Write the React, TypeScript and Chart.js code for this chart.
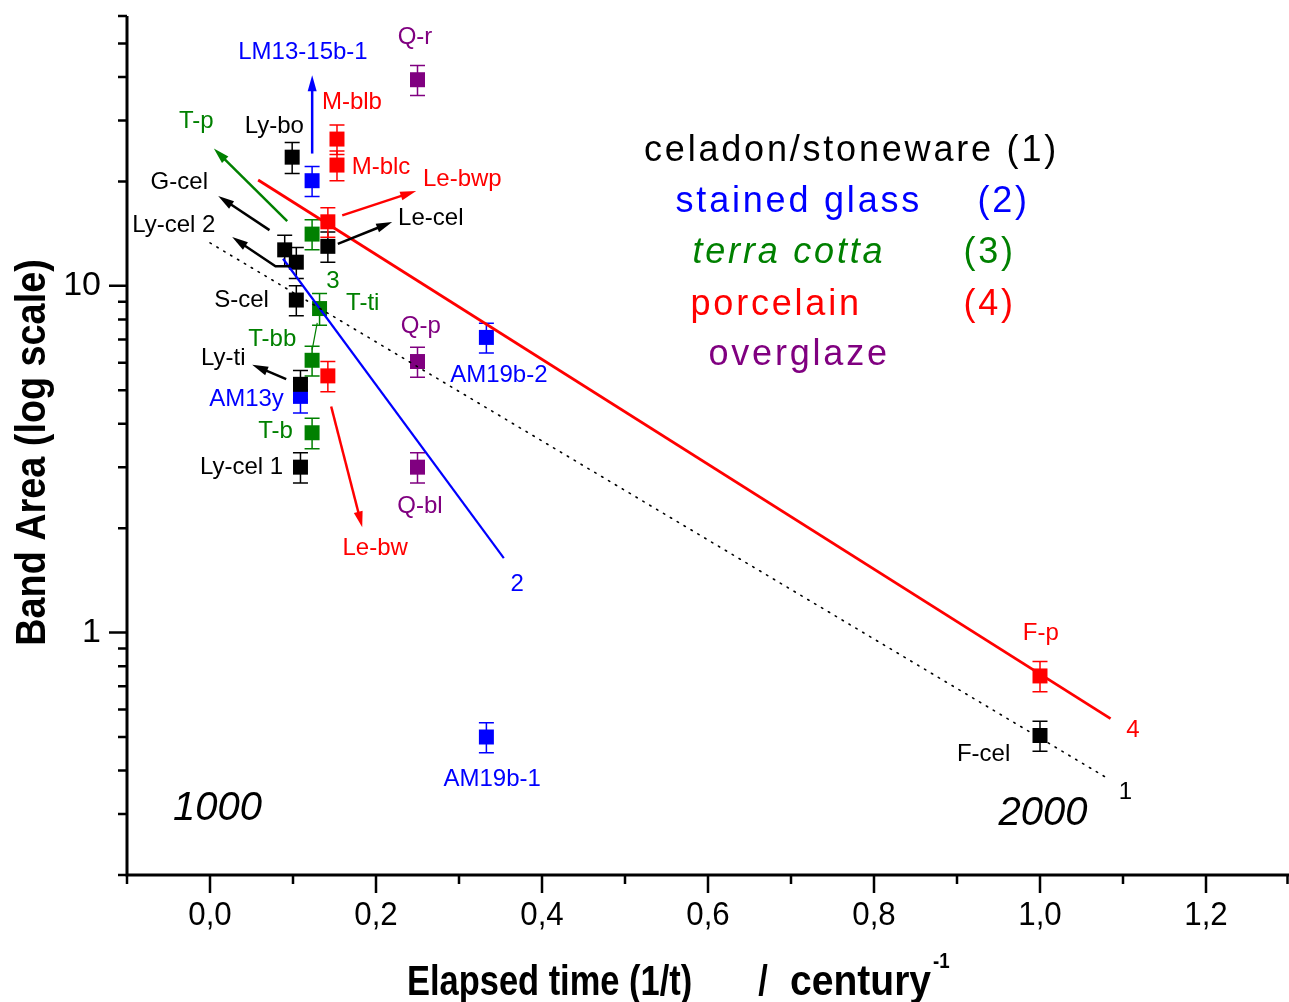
import React, { useEffect, useRef } from "react";
import { Chart, registerables } from "chart.js";

Chart.register(...registerables);

// ---------- data ----------
const celadonNames = ["Ly-bo", "G-cel", "Ly-cel 2", "Le-cel", "S-cel", "Ly-ti", "Ly-cel 1", "F-cel"];
const celadonX = [0.099, 0.09, 0.104, 0.142, 0.104, 0.109, 0.109, 1.0];
const celadonY = [23.5, 12.7, 11.7, 13.0, 9.1, 5.2, 3.0, 0.505];
const celadonErr = [2.4, 1.3, 1.2, 1.3, 0.9, 0.5, 0.3, 0.05];

const glassNames = ["LM13-15b-1", "AM13y", "AM19b-2", "AM19b-1"];
const glassX = [0.123, 0.109, 0.333, 0.333];
const glassY = [20.1, 4.8, 7.1, 0.5];
const glassErr = [2.0, 0.5, 0.7, 0.05];

const terraNames = ["T-p", "T-ti", "T-bb", "T-b"];
const terraX = [0.123, 0.132, 0.123, 0.123];
const terraY = [14.1, 8.6, 6.1, 3.77];
const terraErr = [1.4, 0.9, 0.6, 0.38];

const porcelainNames = ["M-blb", "M-blc", "Le-bwp", "Le-bw", "F-p"];
const porcelainX = [0.153, 0.153, 0.142, 0.142, 1.0];
const porcelainY = [26.5, 22.3, 15.3, 5.5, 0.75];
const porcelainErr = [2.6, 2.2, 1.5, 0.55, 0.075];

const overglazeNames = ["Q-r", "Q-p", "Q-bl"];
const overglazeX = [0.25, 0.25, 0.25];
const overglazeY = [39.3, 6.05, 3.0];
const overglazeErr = [3.9, 0.6, 0.3];

// fitted lines (1) celadon, (2) glass, (4) porcelain
const fit1X = [0.0, 1.083];
const fit1Y = [13.3, 0.378];
const fit2X = [0.088, 0.354];
const fit2Y = [11.97, 1.64];
const fit4X = [0.058, 1.085];
const fit4Y = [20.2, 0.565];

// ticks
const xMajorTicks = [0, 0.2, 0.4, 0.6, 0.8, 1.0, 1.2];
const xTickLabels = ["0,0", "0,2", "0,4", "0,6", "0,8", "1,0", "1,2"];
const xMinorTicks = [-0.1, 0.1, 0.3, 0.5, 0.7, 0.9, 1.1, 1.3];
const yMajorTicks = [1, 10];
const yTickLabels = ["1", "10"];
const yMinorTicks = [0.2, 0.3, 0.4, 0.5, 0.6, 0.7, 0.8, 0.9, 2, 3, 4, 5, 6, 7, 8, 9, 20, 30, 40, 50, 60];

// point annotations (data coordinates)
const labelTexts = ["LM13-15b-1", "Q-r", "M-blb", "T-p", "Ly-bo", "M-blc", "Le-bwp", "G-cel", "Le-cel", "Ly-cel 2", "3", "S-cel", "T-ti", "Q-p", "T-bb", "Ly-ti", "AM19b-2", "AM13y", "T-b", "Ly-cel 1", "Q-bl", "Le-bw", "2", "F-p", "4", "F-cel", "1", "AM19b-1"];
const labelX = [0.112, 0.247, 0.171, -0.0165, 0.0775, 0.206, 0.304, -0.037, 0.266, -0.0436, 0.148, 0.038, 0.184, 0.254, 0.075, 0.016, 0.348, 0.044, 0.079, 0.038, 0.253, 0.199, 0.37, 1.001, 1.112, 0.932, 1.103, 0.34];
const labelY = [47.2, 52.1, 33.9, 29.8, 28.8, 21.9, 20.3, 19.9, 15.7, 14.9, 10.3, 9.09, 8.89, 7.64, 7.03, 6.19, 5.52, 4.71, 3.8, 3.0, 2.31, 1.75, 1.38, 0.993, 0.522, 0.447, 0.346, 0.378];
const labelColorKeys = ["b", "p", "r", "g", "k", "r", "r", "k", "k", "k", "g", "k", "g", "p", "g", "k", "b", "b", "g", "k", "p", "r", "b", "r", "r", "k", "k", "b"];

const eraTexts = ["1000", "2000"];
const eraX = [0.009, 1.0036];
const eraY = [0.3105, 0.3003];

// legend block
const legendTexts = ["celadon/stoneware (1)", "stained glass", "terra cotta", "porcelain", "overglaze"];
const legendNums = ["", "(2)", "(3)", "(4)", ""];
const legendColorKeys = ["k", "b", "g", "r", "p"];
const legendX = [0.5229, 0.5609, 0.5813, 0.5789, 0.6006];
const legendNumX = [0, 0.9247, 0.9078, 0.9078, 0];
const legendY = [24.44, 17.41, 12.4, 8.83, 6.33];

// arrows (data coordinates, last point is the head)
const arrowPaths: number[][][] = [
  [[0.093, 15.37], [0.0046, 24.9]],
  [[0.0717, 14.48], [0.0099, 18.15]],
  [[0.1006, 11.39], [0.0789, 11.39], [0.0267, 13.82]],
  [[0.1231, 24.07], [0.1231, 40.5]],
  [[0.1593, 15.97], [0.2484, 18.77]],
  [[0.154, 13.22], [0.2195, 15.27]],
  [[0.0918, 5.385], [0.0508, 5.92]],
  [[0.146, 4.487], [0.1834, 2.012]],
];
const arrowColorKeys = ["g", "k", "k", "b", "r", "k", "k", "r"];
const connectorPath = [[0.1292, 7.82], [0.1231, 6.546]];

// ---------- styles ----------
const COLORS: Record<string, string> = {
  k: "#000000",
  b: "#0000ff",
  g: "#008000",
  r: "#ff0000",
  p: "#800080",
};
const FONT = '"Liberation Sans", Arial, Helvetica, sans-serif';

function drawText(
  ctx: CanvasRenderingContext2D,
  s: string,
  x: number,
  y: number,
  size: number,
  color: string,
  o: { weight?: string; italic?: boolean; align?: CanvasTextAlign; sx?: number; spacing?: number; rot?: number } = {}
) {
  ctx.save();
  ctx.translate(x, y);
  if (o.rot) ctx.rotate(o.rot);
  if (o.sx) ctx.scale(o.sx, 1);
  ctx.font = `${o.italic ? "italic " : ""}${o.weight || "normal"} ${size}px ${FONT}`;
  (ctx as any).letterSpacing = (o.spacing || 0) + "px";
  ctx.fillStyle = color;
  ctx.textAlign = o.align || "center";
  ctx.textBaseline = "middle";
  ctx.fillText(s, 0, 0);
  ctx.restore();
}

function pts(xs: number[], ys: number[]) {
  return xs.map((x, i) => ({ x, y: ys[i] }));
}

const groups = [
  { x: celadonX, y: celadonY, e: celadonErr, c: "k" },
  { x: glassX, y: glassY, e: glassErr, c: "b" },
  { x: terraX, y: terraY, e: terraErr, c: "g" },
  { x: porcelainX, y: porcelainY, e: porcelainErr, c: "r" },
  { x: overglazeX, y: overglazeY, e: overglazeErr, c: "p" },
];

const decorPlugin = {
  id: "decor",
  beforeDatasetsDraw(chart: any) {
    const ctx: CanvasRenderingContext2D = chart.ctx;
    const xs = chart.scales.x;
    const ys = chart.scales.y;
    ctx.save();
    ctx.lineWidth = 1.5;
    groups.forEach((g) => {
      ctx.strokeStyle = COLORS[g.c];
      g.x.forEach((xv, i) => {
        const px = xs.getPixelForValue(xv);
        const t = ys.getPixelForValue(g.y[i] + g.e[i]);
        const b = ys.getPixelForValue(g.y[i] - g.e[i]);
        ctx.beginPath();
        ctx.moveTo(px, t);
        ctx.lineTo(px, b);
        ctx.moveTo(px - 7.5, t);
        ctx.lineTo(px + 7.5, t);
        ctx.moveTo(px - 7.5, b);
        ctx.lineTo(px + 7.5, b);
        ctx.stroke();
      });
    });
    ctx.restore();
  },
  afterDatasetsDraw(chart: any) {
    const ctx: CanvasRenderingContext2D = chart.ctx;
    const xs = chart.scales.x;
    const ys = chart.scales.y;
    const P = (p: number[]) => [xs.getPixelForValue(p[0]), ys.getPixelForValue(p[1])];

    // arrows
    arrowPaths.forEach((path, k) => {
      const col = COLORS[arrowColorKeys[k]];
      const pp = path.map(P);
      const n = pp.length;
      const [hx, hy] = pp[n - 1];
      const [ax, ay] = pp[n - 2];
      const ang = Math.atan2(hy - ay, hx - ax);
      const L = 16;
      const W = 4.5;
      ctx.save();
      ctx.strokeStyle = col;
      ctx.fillStyle = col;
      ctx.lineWidth = 2.5;
      ctx.beginPath();
      ctx.moveTo(pp[0][0], pp[0][1]);
      for (let i = 1; i < n - 1; i++) ctx.lineTo(pp[i][0], pp[i][1]);
      ctx.lineTo(hx - Math.cos(ang) * (L - 2), hy - Math.sin(ang) * (L - 2));
      ctx.stroke();
      ctx.beginPath();
      ctx.moveTo(hx, hy);
      ctx.lineTo(hx - Math.cos(ang) * L - Math.sin(ang) * W, hy - Math.sin(ang) * L + Math.cos(ang) * W);
      ctx.lineTo(hx - Math.cos(ang) * L + Math.sin(ang) * W, hy - Math.sin(ang) * L - Math.cos(ang) * W);
      ctx.closePath();
      ctx.fill();
      ctx.restore();
    });
    // connector
    {
      const a = P(connectorPath[0]);
      const b = P(connectorPath[1]);
      ctx.save();
      ctx.strokeStyle = COLORS.g;
      ctx.lineWidth = 1.2;
      ctx.beginPath();
      ctx.moveTo(a[0], a[1]);
      ctx.lineTo(b[0], b[1]);
      ctx.stroke();
      ctx.restore();
    }

    // point labels
    labelTexts.forEach((t, i) => {
      const [px, py] = P([labelX[i], labelY[i]]);
      drawText(ctx, t, px, py, 24, COLORS[labelColorKeys[i]]);
    });
    // era labels
    eraTexts.forEach((t, i) => {
      const [px, py] = P([eraX[i], eraY[i]]);
      drawText(ctx, t, px, py, 40, "#000", { italic: true });
    });
    // legend block
    legendTexts.forEach((t, i) => {
      const [px, py] = P([legendX[i], legendY[i]]);
      const col = COLORS[legendColorKeys[i]];
      drawText(ctx, t, px, py, 36, col, { align: "left", spacing: 2.8, italic: i === 2 });
      if (legendNums[i]) {
        const [nx] = P([legendNumX[i], legendY[i]]);
        drawText(ctx, legendNums[i], nx, py, 36, col, { align: "left", spacing: 2.8 });
      }
    });
  },
  afterDraw(chart: any) {
    const ctx: CanvasRenderingContext2D = chart.ctx;
    const xs = chart.scales.x;
    const ys = chart.scales.y;
    const { left, right, top, bottom } = chart.chartArea;
    ctx.save();
    ctx.strokeStyle = "#000";
    ctx.lineWidth = 3;
    ctx.beginPath();
    ctx.moveTo(left, top);
    ctx.lineTo(left, bottom);
    ctx.lineTo(right, bottom);
    ctx.stroke();
    ctx.lineWidth = 2.5;
    ctx.beginPath();
    xMajorTicks.forEach((v) => {
      const px = xs.getPixelForValue(v);
      ctx.moveTo(px, bottom);
      ctx.lineTo(px, bottom + 18);
    });
    xMinorTicks.forEach((v) => {
      const px = Math.min(xs.getPixelForValue(v), right - 1.5);
      ctx.moveTo(px, bottom);
      ctx.lineTo(px, bottom + 9);
    });
    yMajorTicks.forEach((v) => {
      const py = ys.getPixelForValue(v);
      ctx.moveTo(left, py);
      ctx.lineTo(left - 18, py);
    });
    yMinorTicks.forEach((v) => {
      const py = ys.getPixelForValue(v);
      ctx.moveTo(left, py);
      ctx.lineTo(left - 9, py);
    });
    ctx.stroke();
    ctx.restore();

    xMajorTicks.forEach((v, i) => {
      drawText(ctx, xTickLabels[i], xs.getPixelForValue(v), bottom + 41, 34, "#000", { sx: 0.92 });
    });
    yMajorTicks.forEach((v, i) => {
      drawText(ctx, yTickLabels[i], left - 26, ys.getPixelForValue(v), 34, "#000", { align: "right" });
    });

    // axis titles
    const ty = bottom + 108;
    drawText(ctx, "Elapsed time (1/t)", 407, ty, 42, "#000", { weight: "bold", align: "left", sx: 0.82 });
    drawText(ctx, "/", 763, ty, 42, "#000", { weight: "bold", sx: 0.82 });
    drawText(ctx, "century", 790, ty, 42, "#000", { weight: "bold", align: "left", sx: 0.93 });
    drawText(ctx, "-1", 933, ty - 21, 22, "#000", { weight: "bold", align: "left", sx: 0.85 });

    drawText(ctx, "Band Area (log scale)", left - 94, (top + bottom) / 2 + 7, 42, "#000", {
      weight: "bold",
      rot: -Math.PI / 2,
      sx: 0.9,
    });
  },
};

export default function App() {
  const ref = useRef<HTMLCanvasElement>(null);
  useEffect(() => {
    if (!ref.current) return;
    const sq = { pointStyle: "rect" as const, pointRadius: 10.6, pointHoverRadius: 10.6, borderWidth: 0, showLine: false };
    const chart = new Chart(ref.current, {
      type: "scatter",
      data: {
        datasets: [
          { label: "fit 1", data: pts(fit1X, fit1Y), showLine: true, pointRadius: 0, borderColor: "#000", borderWidth: 1.6, borderDash: [1.5, 6.5], borderCapStyle: "round" as const },
          { label: "fit 2", data: pts(fit2X, fit2Y), showLine: true, pointRadius: 0, borderColor: "#0000ff", borderWidth: 2.2 },
          { label: "fit 4", data: pts(fit4X, fit4Y), showLine: true, pointRadius: 0, borderColor: "#ff0000", borderWidth: 2.8 },
          { label: "celadon/stoneware", data: pts(celadonX, celadonY), backgroundColor: COLORS.k, ...sq },
          { label: "stained glass", data: pts(glassX, glassY), backgroundColor: COLORS.b, ...sq },
          { label: "terra cotta", data: pts(terraX, terraY), backgroundColor: COLORS.g, ...sq },
          { label: "porcelain", data: pts(porcelainX, porcelainY), backgroundColor: COLORS.r, ...sq },
          { label: "overglaze", data: pts(overglazeX, overglazeY), backgroundColor: COLORS.p, ...sq },
        ],
      },
      options: {
        responsive: false,
        animation: false,
        devicePixelRatio: 1,
        events: [],
        layout: { autoPadding: false, padding: { left: 127, top: 16, right: 0, bottom: 127 } },
        scales: {
          x: { type: "linear", min: -0.1, max: 1.3, display: false },
          y: { type: "logarithmic", min: 0.2, max: 60, display: false },
        },
        plugins: { legend: { display: false }, tooltip: { enabled: false } },
      },
      plugins: [decorPlugin],
    });
    return () => chart.destroy();
  }, []);
  return (
    <div style={{ position: "absolute", left: 0, top: 0, width: 1289, height: 1002, background: "#fff" }}>
      <canvas ref={ref} width={1289} height={1002} style={{ display: "block", width: 1289, height: 1002 }} />
    </div>
  );
}
